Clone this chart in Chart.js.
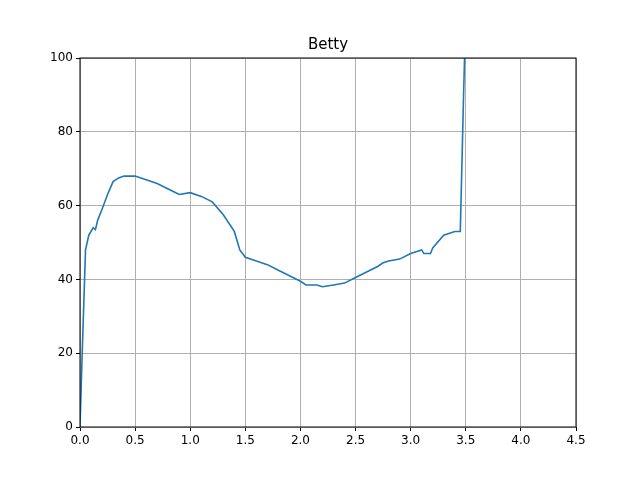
<!DOCTYPE html>
<html><head><meta charset="utf-8">
<script src="https://cdn.jsdelivr.net/npm/chart.js@4"></script>
<style>body{margin:0;background:#fff}#w{width:640px;height:480px}</style>
</head><body><div id="w"><canvas id="c"></canvas></div>
<script>
const titleText = "Betty";
const xs = [0,0.02,0.05,0.08,0.12,0.14,0.16,0.2,0.25,0.3,0.35,0.4,0.5,0.6,0.7,0.8,0.9,1.0,1.1,1.2,1.3,1.4,1.45,1.5,1.6,1.7,1.8,1.9,2.0,2.05,2.15,2.2,2.3,2.4,2.5,2.6,2.7,2.75,2.8,2.9,3.0,3.1,3.12,3.18,3.2,3.3,3.4,3.45,3.46,3.48,3.49];
const ys = [0,20,48,52,54,53.5,56,59,63,66.5,67.5,68,68,67,66,64.5,63,63.5,62.5,61,57.5,53,48,46,45,44,42.5,41,39.5,38.5,38.5,38,38.5,39,40.5,42,43.5,44.5,45,45.5,47,48,47,47,48.5,52,53,53,65,90,101];
const xTicks = [0,0.5,1,1.5,2,2.5,3,3.5,4,4.5];
const yTicks = [0,20,40,60,80,100];
const pts = xs.map((x,i)=>({x, y: ys[i]}));
const font = {family:"DejaVu Sans", size:12};
const frame = {id:'frame', afterDraw(c){const a=c.chartArea,g=c.ctx;g.save();g.strokeStyle='#000';g.lineWidth=1;g.strokeRect(a.left,a.top,a.right-a.left,a.bottom-a.top);
 g.fillStyle='#000';g.font='15px "DejaVu Sans"';g.textAlign='center';g.textBaseline='bottom';g.fillText(titleText,(a.left+a.right)/2,a.top-5);g.restore();}};
new Chart(document.getElementById('c'),{
 type:'scatter',
 data:{datasets:[{data:pts,showLine:true,borderColor:'#1f77b4',borderWidth:1.6,pointRadius:0,tension:0}]},
 options:{responsive:true,maintainAspectRatio:false,animation:false,
  layout:{padding:{top:58,right:64,left:0,bottom:0}},
  plugins:{legend:{display:false},tooltip:{enabled:false}},
  scales:{
   x:{type:'linear',min:0,max:4.5,afterBuildTicks(s){s.ticks=xTicks.map(v=>({value:v}));},afterFit(s){s.height=53;},
      ticks:{color:'#000',font,callback:v=>v.toFixed(1),maxRotation:0},grid:{color:'#b0b0b0',tickColor:'#000',tickLength:4},border:{display:false}},
   y:{min:0,max:100,afterBuildTicks(s){s.ticks=yTicks.map(v=>({value:v}));},afterFit(s){s.width=80;},
      ticks:{color:'#000',font},grid:{color:'#b0b0b0',tickColor:'#000',tickLength:4},border:{display:false}}
  }},
 plugins:[frame]
});
</script></body></html>
